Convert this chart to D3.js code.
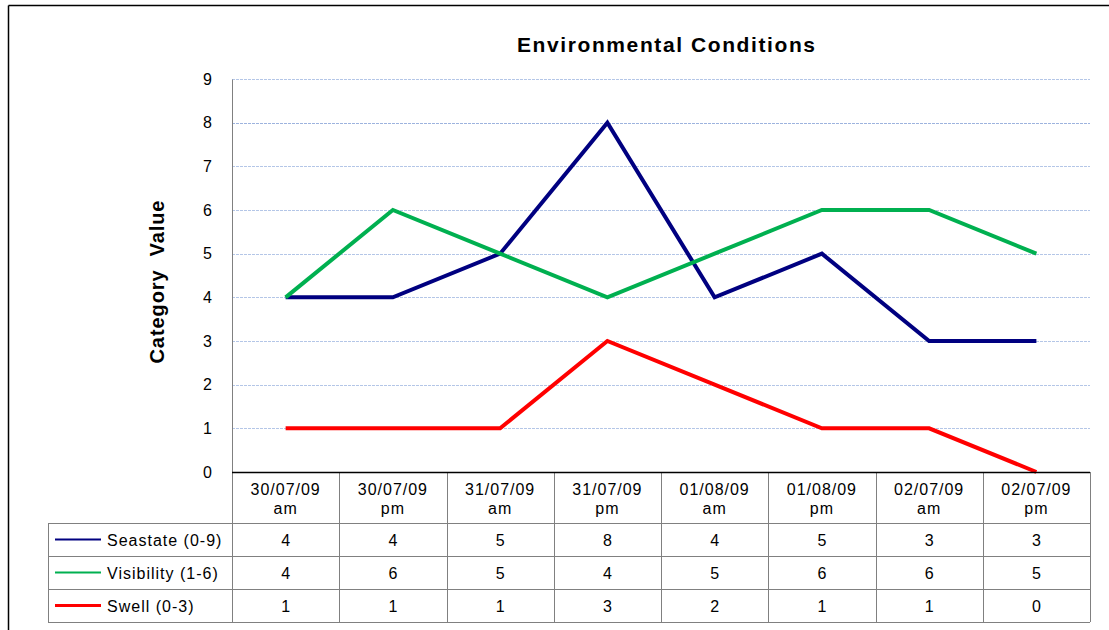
<!DOCTYPE html>
<html>
<head>
<meta charset="utf-8">
<script src="https://cdn.jsdelivr.net/npm/d3@7"></script>
<style>
  body { margin: 0; background: #fff; }
  text { font-family: "Liberation Sans", Arial, sans-serif; }
</style>
</head>
<body>
<div id="chart"></div>
<script>
// chart values
var dates = ["30/07/09", "30/07/09", "31/07/09", "31/07/09", "01/08/09", "01/08/09", "02/07/09", "02/07/09"];
var periods = ["am", "pm", "am", "pm", "am", "pm", "am", "pm"];
var seriesNames = ["Seastate (0-9)", "Visibility (1-6)", "Swell (0-3)"];
var seastate = [4, 4, 5, 8, 4, 5, 3, 3];
var visibility = [4, 6, 5, 4, 5, 6, 6, 5];
var swell = [1, 1, 1, 3, 2, 1, 1, 0];
var yTicks = [0, 1, 2, 3, 4, 5, 6, 7, 8, 9];

var colors = ["#000080", "#00b050", "#ff0000"];
var series = [seastate, visibility, swell];

var W = 1109, H = 630;
var margin = { left: 232, right: 19, top: 79, bottom: 158 };
var width = W - margin.left - margin.right;
var height = H - margin.top - margin.bottom;

var svg = d3.select("#chart").append("svg")
    .attr("width", W)
    .attr("height", H);

// outer frame (only top & left visible)
svg.append("line").attr("x1", 8.5).attr("x2", W).attr("y1", 5.5).attr("y2", 5.5)
    .attr("stroke", "#000").attr("stroke-width", 1.5);
svg.append("line").attr("x1", 8.5).attr("x2", 8.5).attr("y1", 5.5).attr("y2", H)
    .attr("stroke", "#000").attr("stroke-width", 1.5);

var g = svg.append("g")
    .attr("transform", "translate(" + margin.left + "," + margin.top + ")");

var x = d3.scaleBand().domain(d3.range(dates.length)).range([0, width]);
var y = d3.scaleLinear().domain([0, 9]).range([height, 0]);

// title
svg.append("text")
    .attr("x", 666).attr("y", 52)
    .attr("text-anchor", "middle")
    .attr("font-size", "21px")
    .attr("font-weight", "bold")
    .attr("textLength", 298)
    .attr("lengthAdjust", "spacing")
    .text("Environmental Conditions");

// y label
svg.append("text")
    .attr("transform", "translate(164,282) rotate(-90)")
    .attr("text-anchor", "middle")
    .attr("font-size", "20px")
    .attr("font-weight", "bold")
    .attr("xml:space", "preserve")
    .attr("textLength", 163)
    .attr("lengthAdjust", "spacing")
    .text("Category  Value");

// gridlines
g.append("g")
    .selectAll("line")
    .data(yTicks.filter(function(d) { return d > 0; }))
    .enter().append("line")
    .attr("x1", 0).attr("x2", width)
    .attr("y1", function(d) { return Math.round(y(d)) + 0.5; })
    .attr("y2", function(d) { return Math.round(y(d)) + 0.5; })
    .attr("stroke", function(d) { return d == 8 ? "#9db3de" : "#b4c6e7"; })
    .attr("stroke-dasharray", "3,1");

// y axis
var yAxis = g.append("g").call(d3.axisLeft(y).tickValues(yTicks).tickSize(0).tickPadding(20));
yAxis.select(".domain").attr("stroke", "#808080");
yAxis.selectAll("text").attr("font-size", "16px").attr("fill", "#000")
    .attr("font-family", "'Liberation Sans', Arial, sans-serif");

// lines
var line = d3.line()
    .x(function(d, i) { return x(i) + x.bandwidth() / 2; })
    .y(function(d) { return y(d); });

g.selectAll(".series")
    .data(series)
    .enter().append("path")
    .attr("class", "series")
    .attr("fill", "none")
    .attr("stroke", function(d, i) { return colors[i]; })
    .attr("stroke-width", 4)
    .attr("stroke-linejoin", "miter")
    .attr("d", line);

// data table
var headH = 51, rowH = 33;
var tableLeft = 48 - margin.left;
var tbl = g.append("g").attr("transform", "translate(0," + height + ")");
var grid = "#808080";
var ls = "1px";

d3.range(dates.length + 1).forEach(function(i) {
    var xx = i < dates.length ? x(i) : width;
    tbl.append("line")
        .attr("x1", Math.round(xx) + 0.5).attr("x2", Math.round(xx) + 0.5)
        .attr("y1", 0).attr("y2", headH + rowH * 3)
        .attr("stroke", grid);
});
d3.range(4).forEach(function(r) {
    var yy = headH + r * rowH;
    tbl.append("line")
        .attr("x1", tableLeft).attr("x2", width)
        .attr("y1", yy + 0.5).attr("y2", yy + 0.5)
        .attr("stroke", grid);
});
tbl.append("line")
    .attr("x1", tableLeft + 0.5).attr("x2", tableLeft + 0.5)
    .attr("y1", headH).attr("y2", headH + rowH * 3)
    .attr("stroke", grid);

// header labels
dates.forEach(function(d, i) {
    var cx = x(i) + x.bandwidth() / 2;
    tbl.append("text").attr("x", cx).attr("y", 23)
        .attr("text-anchor", "middle").attr("font-size", "16px")
        .attr("letter-spacing", ls).text(d);
    tbl.append("text").attr("x", cx).attr("y", 42)
        .attr("text-anchor", "middle").attr("font-size", "16px")
        .attr("letter-spacing", ls).text(periods[i]);
});

// rows
series.forEach(function(s, r) {
    var cy = headH + r * rowH + rowH / 2 + 6.5;
    tbl.append("line")
        .attr("x1", tableLeft + 7).attr("x2", tableLeft + 53)
        .attr("y1", cy - 6.5).attr("y2", cy - 6.5)
        .attr("stroke", colors[r]).attr("stroke-width", r == 2 ? 3 : 2);
    tbl.append("text").attr("x", tableLeft + 59).attr("y", cy)
        .attr("font-size", "16px").attr("letter-spacing", ls)
        .text(seriesNames[r]);
    s.forEach(function(v, i) {
        tbl.append("text").attr("x", x(i) + x.bandwidth() / 2).attr("y", cy)
            .attr("text-anchor", "middle").attr("font-size", "16px").text(v);
    });
});

// x axis line
g.append("line")
    .attr("x1", 0).attr("x2", width)
    .attr("y1", height + 0.5).attr("y2", height + 0.5)
    .attr("stroke", "#000").attr("stroke-width", 1.5);
</script>
</body>
</html>
